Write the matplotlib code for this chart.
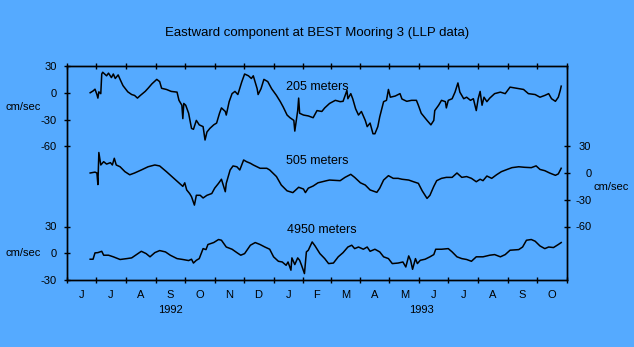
import numpy as np
import matplotlib
matplotlib.use("Agg")
import matplotlib.pyplot as plt
import matplotlib.transforms as mtransforms

# days since 1992-06-01 and eastward velocity (cm/sec)
day_205 = [24, 27, 29, 31, 32, 33, 35, 36, 37, 41, 43, 46, 48, 50, 53, 55, 58, 63, 67, 70,
           73, 76, 81, 84, 88, 93, 96, 98, 103, 108, 114, 116, 119, 120, 121, 123, 126, 129, 131, 134,
           137, 141, 143, 145, 148, 152, 155, 158, 160, 164, 165, 168, 171, 174, 177, 181, 184, 188, 191, 193,
           197, 198, 201, 204, 208, 212, 217, 221, 224, 228, 231, 235, 236, 239, 240, 241, 245, 250, 255, 259,
           264, 267, 272, 278, 283, 286, 290, 291, 294, 296, 299, 302, 305, 309, 311, 314, 317, 319, 322, 324,
           328, 331, 333, 335, 340, 345, 347, 352, 357, 362, 364, 367, 373, 377, 380, 381, 385, 388, 392, 393,
           395, 399, 402, 405, 407, 411, 414, 418, 421, 424, 426, 428, 430, 432, 435, 438, 443, 449, 454, 459,
           466, 473, 478, 485, 490, 495, 499, 502, 506, 509, 511, 512]
u_205 = [0, 2, 4, -2, -6, 1, -1, 21, 23, 19, 22, 17, 21, 16, 20, 15, 8, 1, -2, -3,
         -6, -3, 1.5, 5, 10, 15, 12.5, 5, 3.7, 1.5, 0.7, -8.5, -14, -29, -12, -14, -23, -40, -41, -31,
         -36, -38, -53, -44, -40, -36, -34, -23, -17, -21, -25, -10, -1, 1.5, -2, 12, 21, 19, 16, 19,
         4.5, -2, 4.5, 15, 12.5, 4.5, -3, -10, -16, -25, -28, -31, -43, -20, -6, -23, -25, -26, -28, -20,
         -21, -17, -12, -8.5, -10, -9.6, 2.6, -6.7, -1, -6.7, -18, -25, -21, -31, -38, -34, -46, -46, -38, -27,
         -10, -8.5, 3.7, -5, -3.7, -1, -7, -9.6, -8.5, -8.5, -14, -23, -31, -36, -31, -20, -14, -8.5, -10, -17,
         -8.5, -6.7, 0.7, 11, 0.7, -6.7, -5, -8.5, -6.7, -20, -6.7, 1.5, -14, -5, -10, -6, -1, 0.7, -1, 6.3,
         5, 3.7, -1, -2, -5, -3, -1, -6.7, -9.6, -5, 2.6, 7.4]

day_505 = [24, 29, 31, 32, 33, 35, 38, 41, 45, 47, 49, 51, 55, 60, 65, 70, 77, 84, 91, 96,
           103, 120, 122, 124, 127, 129, 132, 134, 138, 141, 145, 150, 153, 157, 160, 164, 165, 169, 172, 176,
           179, 183, 186, 190, 193, 200, 207, 210, 217, 222, 228, 234, 240, 245, 247, 250, 255, 260, 269, 272,
           283, 288, 294, 298, 304, 309, 314, 321, 324, 328, 333, 338, 343, 347, 354, 359, 364, 368, 373, 376,
           380, 383, 388, 393, 399, 404, 409, 414, 419, 424, 428, 431, 435, 440, 445, 450, 456, 461, 468, 474,
           481, 486, 490, 495, 500, 506, 509, 512]
u_505 = [0, 1, 0, -13, 23, 9, 12.7, 10, 11.6, 9, 16.5, 9, 7, 1.5, -2, 0, 3.4, 7, 9, 7.9,
         1.5, -15, -11, -19, -23, -26.6, -36, -25, -25, -28, -25, -23, -17, -11.6, -7, -21, -11.6, 3.4, 7.9, 7,
         3.4, 14.6, 12.7, 10.9, 9, 5.3, 5.3, 3.4, -4, -13.5, -20, -22, -16, -18, -22, -17, -14.6, -11, -8.6, -7.9,
         -8.6, -4.9, -1.5, -4.9, -11, -13.5, -19, -21.7, -17, -7.9, -3, -6, -6, -7, -7.9, -9.8, -11.6, -20, -28.5, -25,
         -15, -8.6, -6, -4.9, -4.9, 0, -4.9, -4, -6, -9.8, -7, -8.6, -3.4, -6, -2, 1.5, 4, 6, 7, 6.4,
         6, 8, 4, 2.6, 0, -2.6, -1, 5.3]

day_4950 = [24, 27, 29, 32, 36, 38, 43, 48, 55, 62, 67, 72, 77, 82, 86, 91, 96, 102, 107, 114,
            120, 126, 129, 131, 134, 137, 141, 144, 146, 152, 157, 160, 165, 171, 176, 180, 184, 190, 195, 200,
            205, 210, 214, 219, 223, 227, 229, 232, 233, 236, 239, 241, 243, 246, 248, 250, 254, 257, 262, 267,
            271, 276, 281, 286, 291, 295, 298, 302, 307, 311, 314, 319, 324, 328, 333, 337, 343, 348, 351, 354,
            356, 358, 361, 363, 366, 371, 376, 380, 382, 388, 395, 399, 404, 409, 414, 419, 424, 431, 438, 443,
            449, 454, 459, 468, 472, 476, 481, 485, 490, 495, 499, 504, 509, 512]
u_4950 = [-6.7, -6.7, 0.4, 0.7, 2.2, -2.2, -2.2, -4, -7, -6, -5.2, -1.5, 2.2, -0.4, -4, 0.7, 3, 1.5, -2.2, -6,
          -7, -8.2, -6.7, -11, -7.9, -6, 5.2, 4.1, 9.8, 12, 15.4, 14.6, 7, 4.5, 0.7, -2.2, -0.4, 9, 12, 9.8,
          7, 4.5, -4, -9, -9.8, -13.5, -9.8, -19, -5.2, -12.7, -5.2, -7.9, -13.5, -22.8, 1.5, 3.4, 12.7, 8.2, -0.4, -6,
          -11.6, -11, -4, 0.7, 7, 9, 5.2, 7, 4.5, 7, 2.2, 4.5, 1.5, -4, -6, -11.6, -11, -9.8, -15.4, -3,
          -7.9, -18, -6, -11.6, -7.9, -6.7, -4, -1.5, 4.5, 4.5, 5.2, 1.5, -4, -6, -7, -9, -4, -4, -2.2, -1.5,
          -4, -1.5, 3.4, 4.1, 7, 14.6, 15.4, 13.5, 8.2, 5.2, 7, 6.4, 9.8, 12]

month_letters = ["J", "J", "A", "S", "O", "N", "D", "J", "F", "M", "A", "M", "J", "J", "A", "S", "O"]
years = ["1992", "1993"]
year_days = [107, 367]
depth_labels = ["205 meters", "505 meters", "4950 meters"]

# vertical offsets of the three records
offsets = [0, -90, -180]

bg = "#55aaff"
plt.rcParams["font.family"] = ["Liberation Sans", "DejaVu Sans"]

fig = plt.figure(figsize=(6.34, 3.47), dpi=100, facecolor=bg)
ax = fig.add_axes([67 / 634, 67 / 347, 500 / 634, 214 / 347])
ax.set_facecolor(bg)

for d, u, off in zip([day_205, day_505, day_4950], [u_205, u_505, u_4950], offsets):
    ax.plot(d, np.array(u) + off, color="black", lw=1.1)

month_starts = np.arange("1992-06", "1993-12", dtype="datetime64[M]").astype("datetime64[D]")
month_days = (month_starts - np.datetime64("1992-06-01")).astype(int)
ax.set_xlim(month_days[0], month_days[-1])
ax.set_ylim(-210, 30)

ax.set_xticks(month_days)
ax.set_xticklabels([])
ax.set_xticks((month_days[:-1] + month_days[1:]) / 2, minor=True)
ax.set_xticklabels(month_letters, minor=True, fontsize=8)
ax.tick_params(axis="x", which="major", direction="inout", length=5, width=1, top=True, bottom=True)
ax.tick_params(axis="x", which="minor", length=0, pad=7)

ax.set_yticks([30, 0, -30, -60, -150, -180, -210])
ax.set_yticklabels(["30", "0", "-30", "-60", "30", "0", "-30"], fontsize=8)
ax.tick_params(axis="y", direction="inout", length=5, width=1, pad=5)

ax2 = ax.twinx()
ax2.set_ylim(-210, 30)
ax2.set_yticks([-60, -90, -120, -150])
ax2.set_yticklabels(["30", "0", "-30", "-60"], fontsize=8)
ax2.tick_params(axis="y", direction="inout", length=5, width=1, pad=15)
for t in ax2.get_yticklabels():
    t.set_horizontalalignment("right")

for a in (ax, ax2):
    for s in a.spines.values():
        s.set_linewidth(1.0)

trans = mtransforms.blended_transform_factory(ax.transData, fig.transFigure)
for yr, d in zip(years, year_days):
    ax.text(d, 1 - 310 / 347, yr, transform=trans, ha="center", va="center", fontsize=8)

fig.text(0.5, 1 - 33 / 347, "Eastward component at BEST Mooring 3 (LLP data)",
         ha="center", va="center", fontsize=9.5)
fig.text(286 / 634, 1 - 87 / 347, depth_labels[0], ha="left", va="center", fontsize=9)
fig.text(286 / 634, 1 - 161 / 347, depth_labels[1], ha="left", va="center", fontsize=9)
fig.text(287 / 634, 1 - 230 / 347, depth_labels[2], ha="left", va="center", fontsize=9)
fig.text(6 / 634, 1 - 107 / 347, "cm/sec", ha="left", va="center", fontsize=8)
fig.text(6 / 634, 1 - 253 / 347, "cm/sec", ha="left", va="center", fontsize=8)
fig.text(593 / 634, 1 - 187 / 347, "cm/sec", ha="left", va="center", fontsize=8)

fig.savefig("out.png", dpi=100, facecolor=bg)
